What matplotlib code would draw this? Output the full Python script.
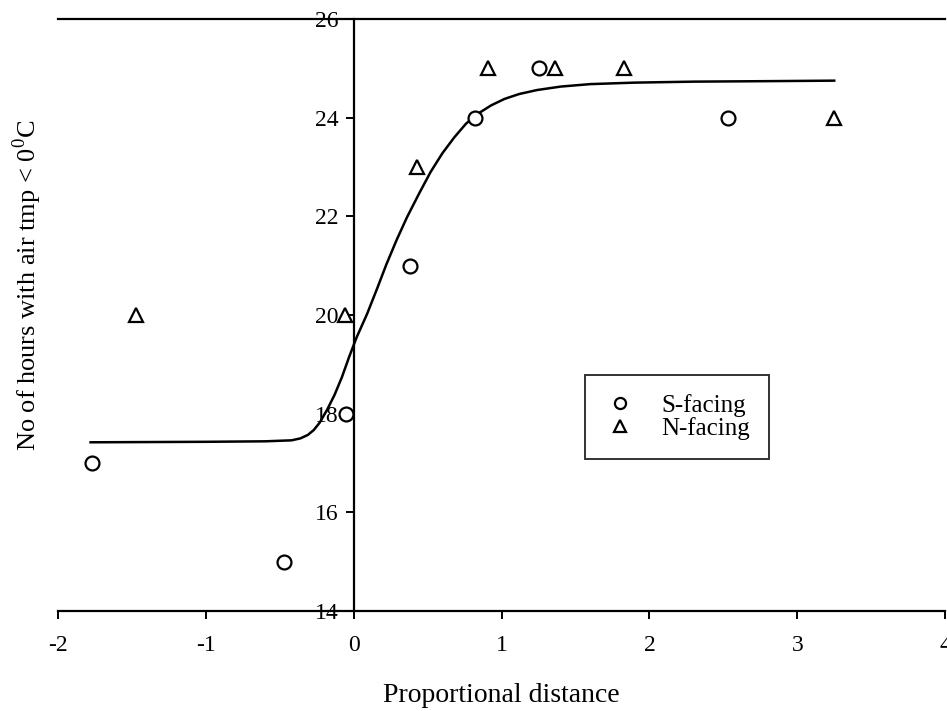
import numpy as np
import matplotlib
matplotlib.use("Agg")
import matplotlib.pyplot as plt

plt.rcParams['font.family'] = ['Liberation Serif', 'DejaVu Serif']
plt.rcParams['mathtext.fontset'] = 'custom'
plt.rcParams['mathtext.rm'] = 'Liberation Serif'
plt.rcParams['axes.unicode_minus'] = False

# S-facing (circles)
s_x = [-1.77, -0.47, -0.05, 0.38, 0.82, 1.25, 2.53]
s_y = [17, 15, 18, 21, 24, 25, 24]
# N-facing (triangles)
n_x = [-1.47, -0.06, 0.43, 0.91, 1.36, 1.83, 3.25]
n_y = [20, 20, 23, 25, 25, 25, 24]
# fitted curve
fit_x = [-1.78, -1.0, -0.6, -0.42, -0.36, -0.31, -0.27, -0.23, -0.18, -0.13,
         -0.08, -0.03, 0.02, 0.09, 0.16, 0.22, 0.29, 0.36, 0.44, 0.52, 0.60,
         0.68, 0.76, 0.84, 0.93, 1.02, 1.12, 1.24, 1.4, 1.6, 1.9, 2.3, 2.8,
         3.25]
fit_y = [17.42, 17.43, 17.44, 17.46, 17.5, 17.57, 17.67, 17.82, 18.08, 18.38,
         18.74, 19.16, 19.55, 20.02, 20.55, 21.02, 21.52, 21.98, 22.45, 22.9,
         23.28, 23.6, 23.88, 24.08, 24.25, 24.38, 24.48, 24.56, 24.63, 24.68,
         24.71, 24.73, 24.74, 24.75]

x_ticks = [-2, -1, 0, 1, 2, 3, 4]
y_ticks = [14, 16, 18, 20, 22, 24, 26]

fig = plt.figure(figsize=(9.47, 7.11), dpi=100)
ax = fig.add_axes([0.0613, 0.1406, 0.9367, 0.8327])

ax.plot(fit_x, fit_y, color='black', lw=1.8, zorder=2)
ax.plot(s_x, s_y, 'o', ms=10, mfc='white', mec='black', mew=1.6,
        ls='none', label='S-facing', zorder=3)
ax.plot(n_x, n_y, '^', ms=10, mfc='white', mec='black', mew=1.6,
        ls='none', label='N-facing', zorder=3)

ax.set_xlim(-2, 4)
ax.set_ylim(14, 26)
ax.set_xticks(x_ticks)
ax.set_yticks(y_ticks)

ax.spines['right'].set_visible(False)
ax.spines['left'].set_position(('data', 0))
for s in ['left', 'top', 'bottom']:
    ax.spines[s].set_linewidth(1.6)
ax.tick_params(axis='both', direction='out', length=6, width=1.4,
               labelsize=17, color='black')
ax.tick_params(axis='y', pad=5)
ax.tick_params(axis='x', pad=11)

ax.set_xlabel('Proportional distance', fontsize=20, labelpad=20)
ax.set_ylabel('No of hours with air tmp < 0$^0$C', fontsize=19)
ax.yaxis.set_label_coords(-0.016, 0.55)

leg = ax.legend(loc='upper left', bbox_to_anchor=(0.594, 0.399), fontsize=18,
                frameon=True, fancybox=False, edgecolor='black',
                borderpad=0.75, borderaxespad=0, handlelength=1.3,
                handletextpad=1.0, labelspacing=0.02, markerscale=0.8)
leg.get_frame().set_linewidth(1.4)

fig.savefig('out.png', dpi=100)
